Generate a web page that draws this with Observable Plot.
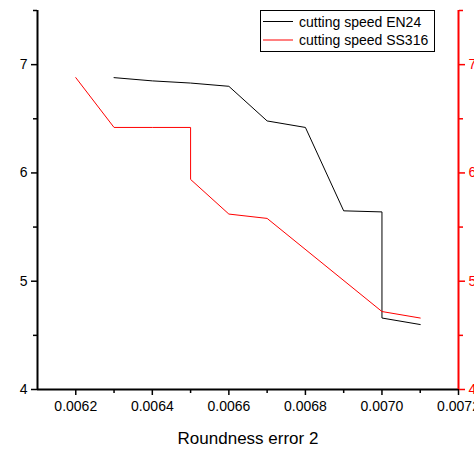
<!DOCTYPE html>
<html><head><meta charset="utf-8">
<script src="https://cdn.jsdelivr.net/npm/d3@7"></script>
<script src="https://cdn.jsdelivr.net/npm/@observablehq/plot@0.6"></script>
<style>
body{margin:0;background:#fff;font-family:"Liberation Sans",Arial,sans-serif}
#wrap{width:474px;height:449px}
</style></head><body><div id="wrap"></div>
<script>
// Data
const xEN24 = [0.0063, 0.0064, 0.0065, 0.0066, 0.0067, 0.0068, 0.0069, 0.0070, 0.0070, 0.0071];
const yEN24 = [6.88, 6.85, 6.83, 6.80, 6.48, 6.42, 5.65, 5.64, 4.66, 4.60];
const xSS316 = [0.0062, 0.0063, 0.0064, 0.0065, 0.0065, 0.0066, 0.0067, 0.0070, 0.0071];
const ySS316 = [6.88, 6.42, 6.42, 6.42, 5.94, 5.62, 5.58, 4.72, 4.66];
const seriesNames = ["cutting speed EN24", "cutting speed SS316"];
const xDomain = [0.0061, 0.0072];
const yDomain = [4, 7.5];
const xMajor = [0.0062, 0.0064, 0.0066, 0.0068, 0.0070, 0.0072];
const xMinor = [0.0063, 0.0065, 0.0067, 0.0069, 0.0071];
const yMajor = [4, 5, 6, 7];
const yMinor = [4.5, 5.5, 6.5, 7.5];
const xTitle = "Roundness error 2";

const en = xEN24.map((x, i) => ({x, y: yEN24[i]}));
const ss = xSS316.map((x, i) => ({x, y: ySS316[i]}));
const RED = "#ff0000";

const chart = Plot.plot({
  width: 474, height: 449,
  marginLeft: 37, marginRight: 16, marginTop: 10, marginBottom: 60,
  style: {fontFamily: "'Liberation Sans', Arial, sans-serif", fontSize: "14px", background: "#fff", overflow: "hidden"},
  x: {domain: xDomain},
  y: {domain: yDomain},
  marks: [
    Plot.line(en, {x: "x", y: "y", stroke: "#000", strokeWidth: 1}),
    Plot.line(ss, {x: "x", y: "y", stroke: RED, strokeWidth: 1}),
    Plot.axisX({ticks: xMajor, tickFormat: d3.format(".4f"), tickSize: 6, tickPadding: 6, strokeWidth: 1.5, fontSize: 14, label: null}),
    Plot.axisX({ticks: xMinor, tickFormat: null, tickSize: 4, strokeWidth: 1.5, label: null, text: null}),
    Plot.axisY({anchor: "left", ticks: yMajor, tickFormat: d3.format("d"), tickSize: 6, tickPadding: 4, strokeWidth: 1.5, fontSize: 14, label: null}),
    Plot.axisY({anchor: "left", ticks: yMinor, tickSize: 4, strokeWidth: 1.5, label: null, text: null}),
    Plot.axisY({anchor: "right", ticks: yMajor, tickFormat: d3.format("d"), tickSize: 6, tickPadding: 4, strokeWidth: 1.5, fontSize: 14, label: null, stroke: RED, fill: RED}),
    Plot.axisY({anchor: "right", ticks: yMinor, tickSize: 4, strokeWidth: 1.5, label: null, text: null, stroke: RED}),
    Plot.ruleY([yDomain[0]], {stroke: "#000", strokeWidth: 2}),
    Plot.ruleX([xDomain[0]], {stroke: "#000", strokeWidth: 2}),
    Plot.ruleX([xDomain[1]], {stroke: RED, strokeWidth: 2}),
    Plot.text([xTitle], {frameAnchor: "bottom", dy: 49, fontSize: 17, lineAnchor: "middle", fill: "#000"})
  ]
});

// Legend
const svg = d3.select(chart);
const lg = svg.append("g");
lg.append("rect").attr("x", 260.5).attr("y", 10.5).attr("width", 174).attr("height", 41)
  .attr("fill", "#fff").attr("stroke", "#000").attr("stroke-width", 1);
const lcolors = ["#000", RED];
const ly = [21.5, 40];
seriesNames.forEach((name, i) => {
  lg.append("line").attr("x1", 263).attr("x2", 293).attr("y1", ly[i]).attr("y2", ly[i])
    .attr("stroke", lcolors[i]).attr("stroke-width", 1);
  lg.append("text").attr("x", 299).attr("y", ly[i] + 5).attr("font-size", 14)
    .attr("text-anchor", "start")
    .attr("font-family", "'Liberation Sans', Arial, sans-serif").attr("fill", "#000").text(name);
});

document.getElementById("wrap").appendChild(chart);
</script>
</body></html>
